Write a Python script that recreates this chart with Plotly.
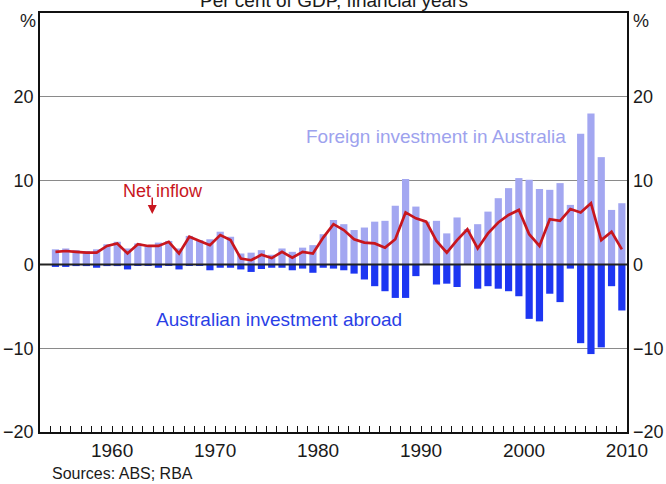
import plotly.graph_objects as go

# Financial years (year ending), 1955 to 2010
years = list(range(1955, 2011))

# Per cent of GDP
foreign_in_australia = [
    1.8, 1.9, 1.7, 1.6, 1.8, 2.4, 2.7, 1.9, 2.5, 2.3,
    2.6, 2.8, 1.9, 3.4, 2.9, 3.0, 3.9, 3.3, 1.3, 1.4,
    1.7, 1.15, 1.9, 1.5, 2.0, 2.3, 3.6, 5.3, 4.8, 4.1,
    4.4, 5.1, 5.2, 7.0, 10.2, 6.9, 5.1, 5.2, 3.7, 5.6,
    4.2, 4.8, 6.3, 7.9, 9.1, 10.3, 10.1, 9.0, 8.9, 9.7,
    7.1, 15.6, 18.0, 12.8, 6.5, 7.3,
]
australian_abroad = [
    -0.3, -0.3, -0.2, -0.2, -0.4, -0.2, -0.2, -0.6, -0.1, -0.1,
    -0.4, -0.1, -0.6, -0.1, -0.1, -0.7, -0.4, -0.4, -0.6, -0.9,
    -0.55, -0.4, -0.4, -0.7, -0.5, -1.0, -0.4, -0.5, -0.7, -1.1,
    -1.8, -2.6, -3.2, -4.0, -4.0, -1.4, 0.0, -2.4, -2.3, -2.7,
    0.0, -2.9, -2.6, -2.9, -3.2, -3.8, -6.5, -6.8, -3.5, -4.5,
    -0.5, -9.4, -10.7, -9.9, -2.6, -5.5,
]
net_inflow = [
    1.5, 1.6, 1.5, 1.4, 1.4, 2.2, 2.5, 1.3, 2.4, 2.2,
    2.2, 2.7, 1.3, 3.3, 2.8, 2.3, 3.5, 2.9, 0.7, 0.5,
    1.15, 0.75, 1.5, 0.8, 1.5, 1.3, 3.2, 4.8, 4.1, 3.0,
    2.6, 2.5, 2.0, 3.0, 6.2, 5.5, 5.1, 2.8, 1.4, 2.9,
    4.2, 1.9, 3.7, 5.0, 5.9, 6.5, 3.6, 2.2, 5.4, 5.2,
    6.6, 6.2, 7.3, 2.9, 3.9, 1.8,
]

y_ticks = [-20, -10, 0, 10, 20]
x_ticks = [1960, 1970, 1980, 1990, 2000, 2010]

# bars centred in the middle of each financial year
x_pos = [y - 0.5 for y in years]

LIGHT = "#a3a7f1"
DARK = "#1d36f2"
RED = "#c8161e"
FONT = "Liberation Sans, Arial, sans-serif"
FS = 19

fig = go.Figure()
fig.add_trace(go.Bar(x=x_pos, y=foreign_in_australia, marker=dict(color=LIGHT, line=dict(width=0)),
                     name="Foreign investment in Australia"))
fig.add_trace(go.Bar(x=x_pos, y=australian_abroad, marker=dict(color=DARK, line=dict(width=0)),
                     name="Australian investment abroad"))
fig.add_trace(go.Scatter(x=x_pos, y=net_inflow, mode="lines", line=dict(color=RED, width=2.7),
                         name="Net inflow"))
# same series attached (invisibly) to the right-hand axis so that its labels are drawn
fig.add_trace(go.Scatter(x=x_pos, y=net_inflow, mode="lines", yaxis="y2", opacity=0,
                         hoverinfo="skip", showlegend=False))

fig.update_layout(
    width=666, height=484,
    margin=dict(l=40, r=39, t=13, b=52),
    paper_bgcolor="white", plot_bgcolor="white",
    barmode="relative", bargap=0.3,
    showlegend=False,
    font=dict(family=FONT, size=FS, color="#1a1a1a"),
    xaxis=dict(
        range=[1953, 2010], tickmode="array", tickvals=x_ticks,
        ticktext=[str(t) for t in x_ticks],
        ticks="inside", ticklen=6, tickwidth=1, tickcolor="#111",
        minor=dict(dtick=1, tick0=1953, ticks="inside", ticklen=6, tickwidth=1, tickcolor="#111"),
        showgrid=False, zeroline=False, automargin=False,
        showline=True, mirror=True, linecolor="#111", linewidth=1.5,
        tickfont=dict(size=FS),
    ),
    yaxis=dict(
        range=[-20, 30], tickmode="array", tickvals=y_ticks,
        ticks="", showgrid=True, gridcolor="#8a8a8a", gridwidth=1,
        zeroline=False, automargin=False,
        showline=True, mirror=True, linecolor="#111", linewidth=1.5,
        tickfont=dict(size=FS - 1), ticklabelstandoff=1,
    ),
    yaxis2=dict(
        range=[-20, 30], tickmode="array", tickvals=y_ticks,
        overlaying="y", side="right", ticks="", showgrid=False, zeroline=False,
        showline=False, automargin=False, tickfont=dict(size=FS - 1), ticklabelstandoff=5,
    ),
)

# zero line drawn over the bars
fig.add_hline(y=0, line=dict(color="#222", width=2), layer="above")

# axis unit labels
fig.add_annotation(text="%", xref="paper", yref="y", x=0, y=29, xanchor="right", xshift=-2,
                   showarrow=False, font=dict(size=FS - 1))
fig.add_annotation(text="%", xref="paper", yref="y", x=1, y=29, xanchor="left", xshift=4,
                   showarrow=False, font=dict(size=FS - 1))

# title (partly cut off at top of the image)
fig.add_annotation(text="Per cent of GDP, financial years", xref="paper", yref="paper",
                   x=0.5, y=1.031, yanchor="middle", showarrow=False, font=dict(size=FS))

# series labels
fig.add_annotation(text="Foreign investment in Australia", x=1991.5, y=15.3, showarrow=False,
                   font=dict(size=FS, color="#9da2ee"))
fig.add_annotation(text="Net inflow", x=1964.9, y=8.8, showarrow=False,
                   font=dict(size=FS - 1, color=RED))
fig.add_annotation(x=1963.9, y=6.0, ax=0, ay=-18, text="", showarrow=True,
                   arrowhead=2, arrowsize=1.2, arrowwidth=1.5, arrowcolor=RED)
fig.add_annotation(text="Australian investment abroad", x=1976.2, y=-6.6, showarrow=False,
                   font=dict(size=FS, color="#2a3fe6"))

fig.add_annotation(text="Sources: ABS; RBA", xref="paper", yref="paper", x=0.017, y=-0.1,
                   xanchor="left", yanchor="middle", showarrow=False, font=dict(size=16))

# remove the browser's default page margin so the figure sits at the top-left corner
fig.write_html("out.html", config={"displayModeBar": False},
               post_script="document.body.style.margin='0';")
